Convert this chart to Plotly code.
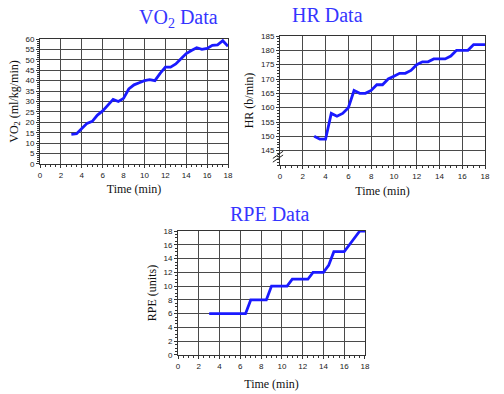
import plotly.graph_objects as go

time = [3, 3.5, 4, 4.5, 5, 5.5, 6, 6.5, 7, 7.5, 8, 8.5, 9, 9.5, 10, 10.5, 11,
        11.5, 12, 12.5, 13, 13.5, 14, 14.5, 15, 15.5, 16, 16.5, 17, 17.5, 18]
vo2 = [14.2, 14.5, 17, 19.5, 20.5, 23.5, 25.5, 28, 31, 30, 31.5, 36, 38, 39, 40,
       40.5, 40, 43.5, 46.5, 46.5, 48, 50.5, 53, 54.5, 55.8, 55, 55.5, 57, 57.2, 59.2, 56.5]
hr = [150, 149, 149, 158, 157, 158, 160, 166, 165, 165, 166, 168, 168, 170, 171,
      172, 172, 173, 175, 176, 176, 177, 177, 177, 178, 180, 180, 180, 182, 182, 182]
rpe = [6, 6, 6, 6, 6, 6, 6, 6, 8, 8, 8, 8, 10, 10, 10, 10, 11, 11, 11, 11, 12, 12,
       12, 13, 15, 15, 15, 16, 17, 18, 18]

x_ticks = list(range(0, 19, 2))
vo2_ticks = list(range(0, 61, 5))
hr_ticks = list(range(145, 186, 5))
rpe_ticks = list(range(0, 19, 2))

LINE = "#1a1aff"
TITLE = "#3535ff"
GRID = "#4a4a4a"
TICKF = dict(family="Liberation Sans, Arial", size=8, color="#222")
AXF = dict(family="Liberation Serif, Times New Roman", size=12, color="#111")

fig = go.Figure()
fig.add_trace(go.Scatter(x=time, y=vo2, mode="lines", line=dict(color=LINE, width=2.8),
                         xaxis="x", yaxis="y", showlegend=False))
fig.add_trace(go.Scatter(x=time, y=hr, mode="lines", line=dict(color=LINE, width=2.8),
                         xaxis="x2", yaxis="y2", showlegend=False))
fig.add_trace(go.Scatter(x=time, y=rpe, mode="lines", line=dict(color=LINE, width=2.8),
                         xaxis="x3", yaxis="y3", showlegend=False))


def xax(domain, anchor, title_standoff=6):
    return dict(domain=domain, anchor=anchor, range=[0, 18], tickvals=x_ticks,
                automargin=False,
                showgrid=True, gridcolor=GRID, gridwidth=1.2, showline=True,
                linecolor="#333", linewidth=1, mirror=True, ticks="outside",
                ticklen=3, tickcolor="#333", tickfont=TICKF, zeroline=False,
                minor=dict(dtick=0.5, ticks="outside", ticklen=2, tickcolor="#333", showgrid=False),
                title=dict(text="Time (min)", font=AXF, standoff=title_standoff))


def yax(domain, anchor, rng, ticks, title, minor_dt):
    return dict(domain=domain, anchor=anchor, range=rng, tickvals=ticks,
                automargin=False,
                showgrid=True, gridcolor=GRID, gridwidth=1.2, showline=True,
                linecolor="#333", linewidth=1, mirror=True, ticks="outside",
                ticklen=3, tickcolor="#333", tickfont=TICKF, zeroline=False,
                minor=dict(dtick=minor_dt, ticks="outside", ticklen=2, tickcolor="#333", showgrid=False),
                title=dict(text=title, font=AXF, standoff=4))


fig.update_layout(
    width=504, height=394, margin=dict(l=0, r=0, t=0, b=0),
    paper_bgcolor="white", plot_bgcolor="white",
    xaxis=xax([0.0794, 0.4524], "y"),
    yaxis=yax([0.5838, 0.901], "x", [0, 60], vo2_ticks, "VO<sub>2</sub> (ml/kg/min)", 1),
    xaxis2=xax([0.5556, 0.9623], "y2"),
    yaxis2=yax([0.5812, 0.9086], "x2", [140, 185], hr_ticks, "HR (b/min)", 1),
    xaxis3=xax([0.3532, 0.7242], "y3", 10),
    yaxis3=yax([0.099, 0.4137], "x3", [0, 18], rpe_ticks, "RPE (units)", 0.5),
)

TF = dict(family="Liberation Serif, Times New Roman", size=20, color=TITLE)
fig.add_annotation(text="VO<sub>2</sub> Data", x=0.272, y=0.953, xref="paper", yref="paper",
                   showarrow=False, font=TF, yanchor="middle")
fig.add_annotation(text="HR Data", x=0.725, y=0.962, xref="paper", yref="paper",
                   showarrow=False, font=TF, yanchor="middle")
fig.add_annotation(text="RPE Data", x=0.535, y=0.458, xref="paper", yref="paper",
                   showarrow=False, font=TF, yanchor="middle")

# axis break marks on HR y-axis
for dy in (0, 1.3):
    fig.add_shape(type="line", xref="x2 domain", yref="y2",
                  x0=-0.035, x1=0.015, y0=141 + dy, y1=143.5 + dy,
                  line=dict(color="#222", width=1))

fig.write_html("out.html", config={"displayModeBar": False},
               post_script="document.body.style.margin='0';document.body.style.padding='0';document.body.style.overflow='hidden';")
